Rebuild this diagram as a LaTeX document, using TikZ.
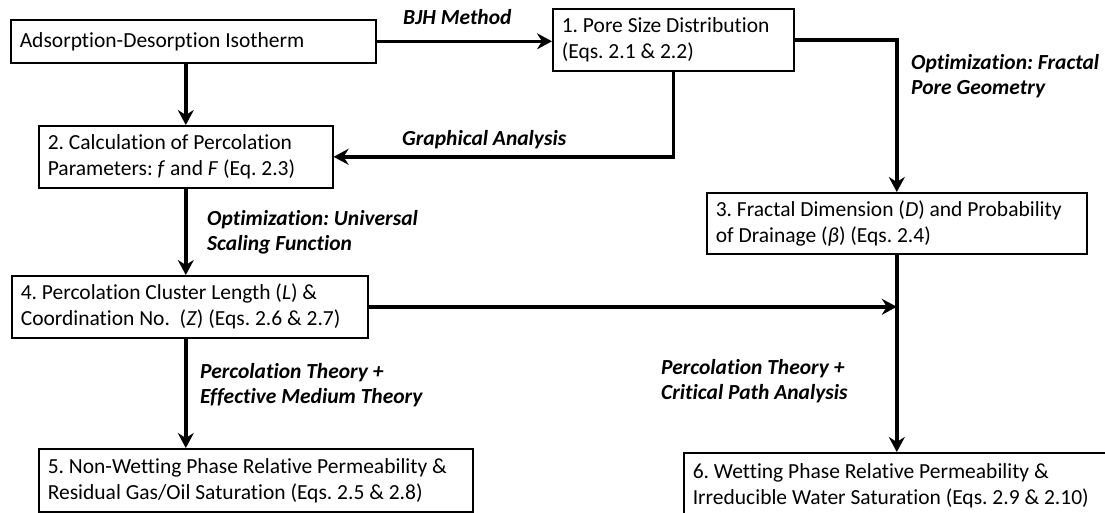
\documentclass[tikz,border=0pt]{standalone}
\usepackage{fontspec}
\setmainfont{Carlito}[Ligatures=CommonOff]
\usetikzlibrary{arrows.meta}
\newcommand{\tightsp}{\spaceskip=0pt\relax\xspaceskip=0pt\relax}
\begin{document}
\frenchspacing
\begin{tikzpicture}[x=1pt,y=-1pt,
  box/.style={draw=black, line width=1.6pt, rectangle, anchor=north west, inner xsep=9pt, inner ysep=0pt, align=left, font=\fontsize{21.5}{26}\selectfont, execute at begin node=\tightsp},
  conn/.style={line width=3.6pt, -{Stealth[length=15pt,width=16pt,inset=5pt]}},
  lab/.style={anchor=west, align=left, inner sep=0pt, font=\fontsize{21.5}{25}\selectfont\bfseries\itshape, execute at begin node=\tightsp}]
\clip (0,0) rectangle (1105,512);
\fill[white] (0,0) rectangle (1105,512);
% boxes
\node[box, text width=347pt, minimum height=43pt] (A) at (10,19) {Adsorption-Desorption Isotherm};
\node[box, text width=223pt, minimum height=62pt] (B1) at (552,8) {1. Pore Size Distribution\\(Eqs. 2.1 \& 2.2)};
\node[box, text width=276pt, minimum height=62pt] (B2) at (38,125) {2. Calculation of Percolation\\Parameters: \textit{f} and \textit{F} (Eq. 2.3)};
\node[box, text width=362pt, minimum height=61pt] (B3) at (706,192) {3. Fractal Dimension (\textit{D}) and Probability\\of Drainage (\textit{β}) (Eqs. 2.4)};
\node[box, text width=338pt, minimum height=62pt] (B4) at (11,275) {4. Percolation Cluster Length (\textit{L}) \&\\Coordination No.\ \ (\textit{Z}) (Eqs. 2.6 \& 2.7)};
\node[box, text width=416pt, minimum height=63pt] (B5) at (38,448) {5. Non-Wetting Phase Relative Permeability \&\\Residual Gas/Oil Saturation (Eqs. 2.5 \& 2.8)};
\node[box, text width=422pt, minimum height=65pt] (B6) at (683,452) {6. Wetting Phase Relative Permeability \&\\Irreducible Water Saturation (Eqs. 2.9 \& 2.10)};
% connectors
\draw[conn] (A.east) -- (A.east -| B1.west);
\draw[conn] (B2.north |- A.south) -- (B2.north);
\draw[conn] (B1.south) |- (B2.east);
\draw[conn] (B1.east) -| (B3.north);
\draw[conn] (B2.south) -- (B2.south |- B4.north);
\coordinate (J) at (B4.east -| B3.south);
\draw[conn] (B4.east) -- (J);
\draw[conn] (B3.south) -- (B3.south |- B6.north);
\draw[conn] (B2.south |- B4.south) -- (B2.south |- B5.north);
% labels
\node[lab] (l1) at (403,17) {BJH Method};
\node[lab] (l2) at (402,140) {Graphical Analysis};
\node[lab] (l3) at (911,76.5) {Optimization: Fractal\\Pore Geometry};
\node[lab] (l4) at (207,232.5) {Optimization: Universal\\Scaling Function};
\node[lab] (l5) at (200,385.5) {Percolation Theory +\\Effective Medium Theory};
\node[lab] (l6) at (661,381.5) {Percolation Theory +\\Critical Path Analysis};
\end{tikzpicture}
\end{document}
